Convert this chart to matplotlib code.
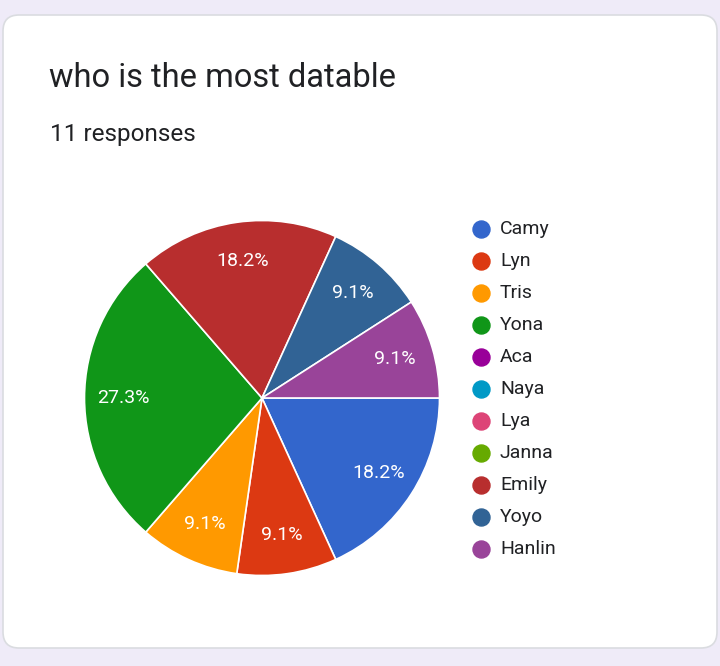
import matplotlib
matplotlib.use('Agg')
import matplotlib.pyplot as plt
from matplotlib.patches import FancyBboxPatch

# Survey data
names = ['Camy', 'Lyn', 'Tris', 'Yona', 'Aca', 'Naya', 'Lya', 'Janna', 'Emily', 'Yoyo', 'Hanlin']
votes = [2, 1, 1, 3, 0, 0, 0, 0, 2, 1, 1]
colors = ['#3366cc', '#dc3912', '#ff9900', '#109618', '#990099', '#0099c6',
          '#dd4477', '#66aa00', '#b82e2e', '#316395', '#994499']

title = 'who is the most datable'
subtitle = f'{sum(votes)} responses'

plt.rcParams['font.family'] = ['Roboto', 'DejaVu Sans']

W, H = 720, 666
fig = plt.figure(figsize=(W / 100, H / 100), dpi=100)
fig.patch.set_facecolor('#efebf8')

# Background / card layer in pixel coordinates
bg = fig.add_axes([0, 0, 1, 1])
bg.set_xlim(0, W)
bg.set_ylim(H, 0)
bg.axis('off')
card = FancyBboxPatch((3, 15), 714, 633, boxstyle='round,pad=0,rounding_size=16',
                      facecolor='white', edgecolor='#dadce0', linewidth=1.2)
bg.add_patch(card)

bg.text(49, 78, title, fontsize=23.5, color='#202124', va='center', ha='left')
bg.text(50, 135, subtitle, fontsize=17.5, color='#202124', va='center', ha='left')

# Pie (skip empty categories, keep colours)
shown = [(v, c) for v, c in zip(votes, colors) if v > 0]
vals = [v for v, _ in shown]
cols = [c for _, c in shown]

cx, cy, r = 262, 398, 177.5
pax = fig.add_axes([(cx - r) / W, (H - cy - r) / H, 2 * r / W, 2 * r / H])
pax.pie(vals, colors=cols, startangle=0, counterclock=False,
        autopct=lambda p: f'{p:.1f}%', pctdistance=0.78,
        wedgeprops=dict(edgecolor='white', linewidth=1.2),
        textprops=dict(color='white', fontsize=14))
pax.set_xlim(-1, 1)
pax.set_ylim(-1, 1)
pax.axis('off')

# Legend
for i, (name, c) in enumerate(zip(names, colors)):
    y = 229 + 32 * i
    bg.scatter([481], [y], s=150, color=c, zorder=3)
    bg.text(500, y, name, fontsize=14, color='#202124', va='center', ha='left')

fig.savefig('out.png', dpi=100)
